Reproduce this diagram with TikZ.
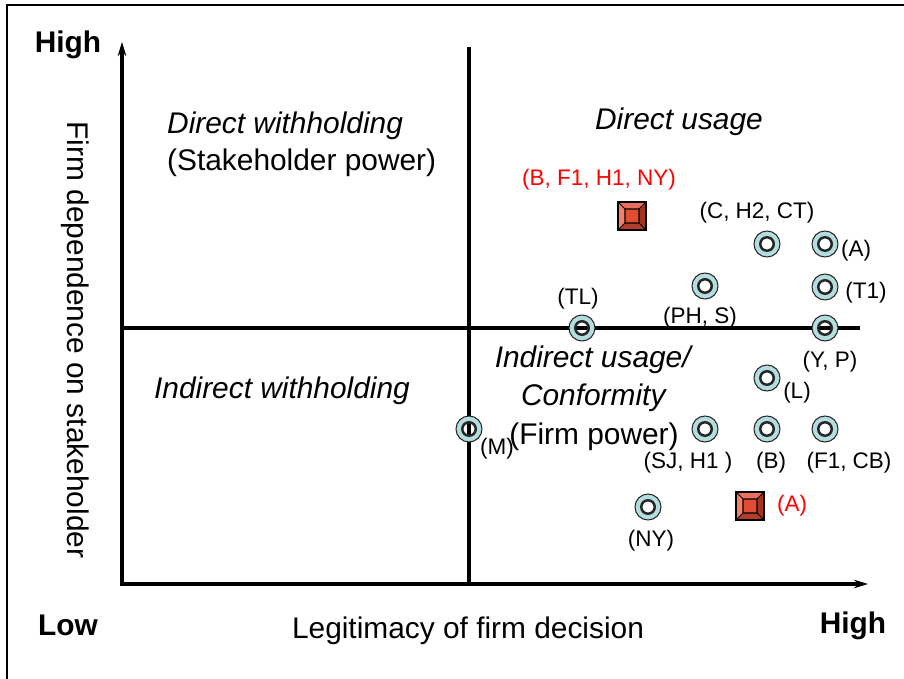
\documentclass[tikz,border=0pt]{standalone}
\usepackage{fontspec}
\setmainfont{Liberation Sans}
\usetikzlibrary{arrows.meta}

\definecolor{ringblue}{RGB}{180,221,224}
\definecolor{sqtop}{RGB}{232,112,92}
\definecolor{sqleft}{RGB}{240,128,108}
\definecolor{sqright}{RGB}{163,52,32}
\definecolor{sqbottom}{RGB}{176,62,40}
\definecolor{sqmid}{RGB}{224,76,52}
\definecolor{tagred}{RGB}{255,0,0}

\tikzset{
  axisline/.style={line width=2pt},
  big/.style={font=\fontsize{17}{21}\selectfont},
  bigbf/.style={font=\fontsize{17}{21}\selectfont\bfseries},
  tag/.style={font=\fontsize{12.8}{15}\selectfont, inner sep=0pt},
  % blue annulus with an open centre, so lines behind show through
  ring/.style={circle, inner sep=0pt, minimum size=0.52cm, draw=black!85, line width=0.6pt,
    path picture={
      \fill[ringblue, even odd rule] (path picture bounding box.center) circle (0.26cm)
        (path picture bounding box.center) circle (0.135cm);
      \draw[line width=1.4pt] (path picture bounding box.center) circle (0.135cm);}},
  bevel/.style={rectangle, inner sep=0pt, minimum size=0.56cm, draw, line width=0.7pt,
    path picture={
      \begin{scope}[shift={(path picture bounding box.center)}]
        \fill[sqtop] (-14,-14) -- (14,-14) -- (7,-7) -- (-7,-7) -- cycle;
        \fill[sqbottom] (-14,14) -- (14,14) -- (7,7) -- (-7,7) -- cycle;
        \fill[sqleft] (-14,-14) -- (-7,-7) -- (-7,7) -- (-14,14) -- cycle;
        \fill[sqright] (14,-14) -- (7,-7) -- (7,7) -- (14,14) -- cycle;
        \fill[sqmid] (-7,-7) rectangle (7,7);
        \draw[line width=0.6pt] (-7,-7) rectangle (7,7)
          (-14,-14) -- (-7,-7) (14,-14) -- (7,-7) (-14,14) -- (-7,7) (14,14) -- (7,7);
      \end{scope}}}
}

\begin{document}
\begin{tikzpicture}[x=0.02cm, y=-0.02cm, >={Stealth[length=0.28cm, width=0.17cm]}]
    \useasboundingbox (0,0) rectangle (904,679);
    % frame
    \draw[line width=1.4pt] (904,5) -- (7,5) -- (7,679);

    % axes and quadrant lines
    \draw[axisline,<->] (122,42) -- (122,584) -- (868,584);
    \draw[axisline] (469,47) -- (469,584);
    \draw[axisline] (122,328) -- (860,328);

    % axis labels
    \node[bigbf] (yhigh) at (68,45) {High};
    \node[bigbf] (xlow) at (68,625) {Low};
    \node[bigbf] (xhigh) at (853,626) {High};
    \node[big] (xlabel) at (468,631) {Legitimacy of firm decision};
    \node[big, rotate=-90] (ylabel) at (75,340) {Firm dependence on stakeholder};

    % quadrant names
    \node[big, align=left, anchor=west] (dw) at (161,144) {\textit{Direct withholding}\\(Stakeholder power)};
    \node[big] (du) at (679,122) {\textit{Direct usage}};
    \node[big] (iw) at (282,391) {\textit{Indirect withholding}};
    \node[big, align=center] (iu) at (594,398) {\textit{Indirect usage/}\\[1pt]\textit{Conformity}\\[1pt](Firm power)};

    % firms
    \node[ring] (ch) at (767,244) {};
    \node[ring] (a) at (825,244) {};
    \node[ring] (t1) at (825,287) {};
    \node[ring] (phs) at (705,286) {};
    \node[ring] (tl) at (582,328) {};
    \node[ring] (yp) at (825,328) {};
    \node[ring] (l) at (767,378) {};
    \node[ring] (sjh) at (705,429) {};
    \node[ring] (b) at (767,429) {};
    \node[ring] (fcb) at (825,429) {};
    \node[ring] (m) at (469,429) {};
    \node[ring] (ny) at (648,507) {};
    \node[bevel] (bfhn) at (632,216) {};
    \node[bevel] (ar) at (750,506) {};

    \node[tag] (ch-l) at (757,213) {(C, H2, CT)};
    \node[tag] (a-l) at (856,251) {(A)};
    \node[tag] (t1-l) at (866,293) {(T1)};
    \node[tag] (phs-l) at (700,318) {(PH, S)};
    \node[tag] (tl-l) at (578,299) {(TL)};
    \node[tag] (yp-l) at (830,362) {(Y, P)};
    \node[tag] (l-l) at (797,393) {(L)};
    \node[tag] (sjh-l) at (688,463) {(SJ, H1 )};
    \node[tag] (b-l) at (771,463) {(B)};
    \node[tag] (fcb-l) at (849,463) {(F1, CB)};
    \node[tag] (m-l) at (497,449) {(M)};
    \node[tag] (ny-l) at (651,541) {(NY)};
    \node[tag, text=tagred] (bfhn-l) at (599,180) {(B, F1, H1, NY)};
    \node[tag, text=tagred] (ar-l) at (792,506) {(A)};
\end{tikzpicture}
\end{document}
